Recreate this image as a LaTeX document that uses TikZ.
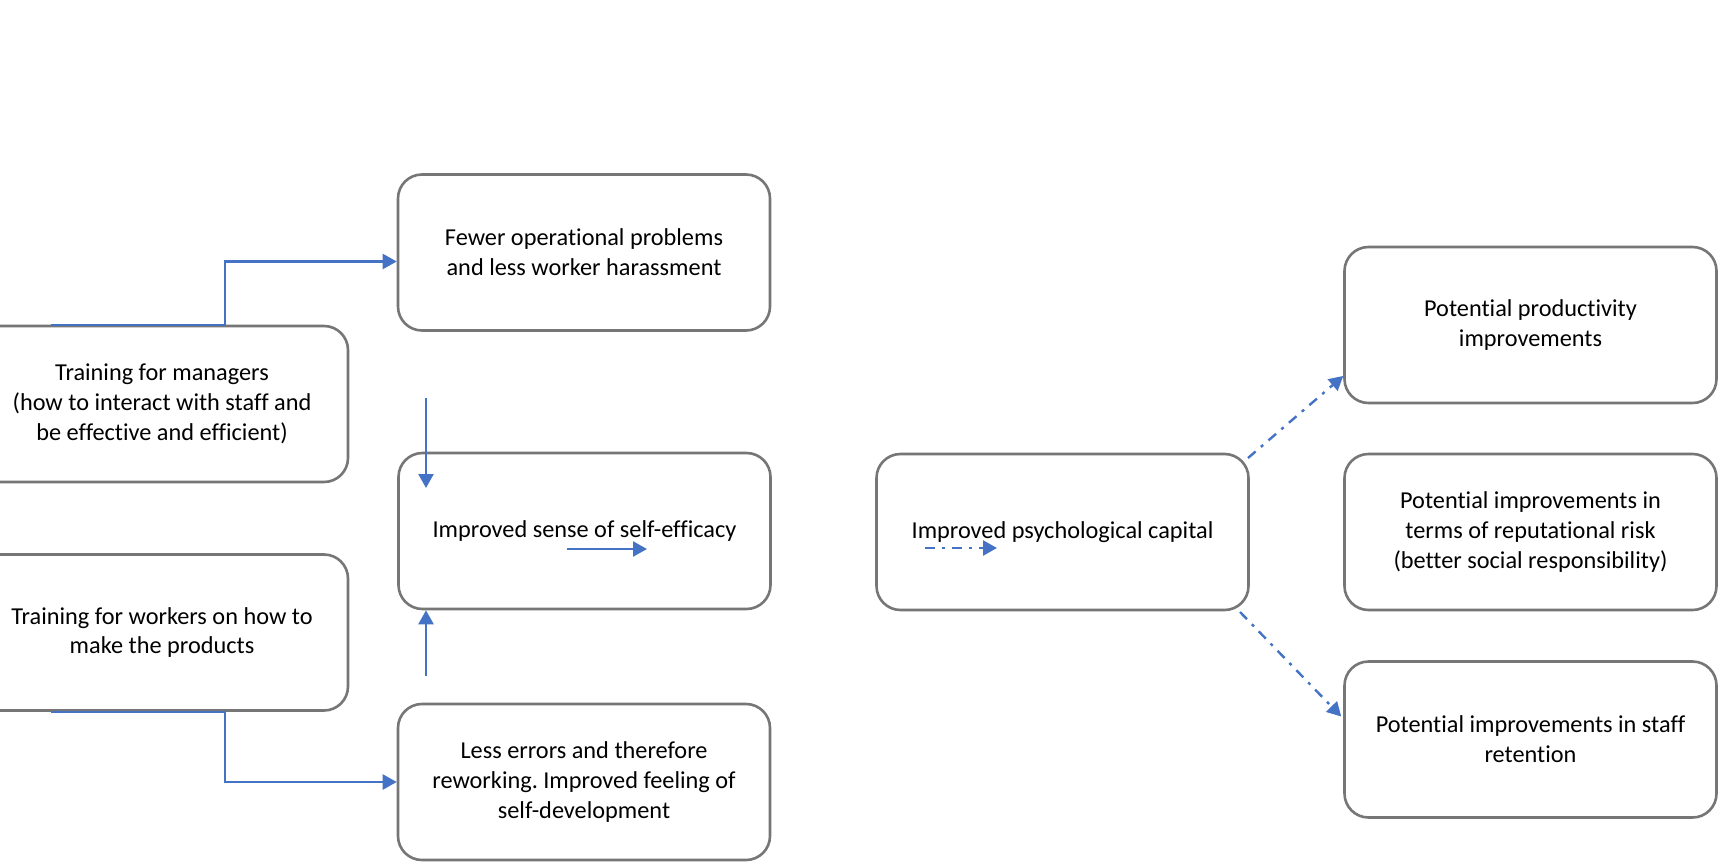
\documentclass[tikz,border=0pt]{standalone}
\usepackage{fontspec}
\setmainfont{Carlito}[Ligatures=NoCommon]
\frenchspacing
\usetikzlibrary{arrows.meta}
\definecolor{boxgrey}{HTML}{767676}
\definecolor{connblue}{HTML}{4472C4}
\tikzset{
  rbox/.style={draw=boxgrey, line width=2.6pt, rounded corners=24pt, rectangle,
    minimum width=372pt, minimum height=156pt, inner sep=0pt, align=center,
    font=\fontsize{24.3pt}{29.8pt}\selectfont, text=black},
  conn/.style={draw=connblue, line width=2.4pt, -{Triangle[length=14pt,width=15pt]}},
  dconn/.style={conn, dash pattern=on 10pt off 7pt on 3pt off 7pt},
}
\begin{document}
\begin{tikzpicture}[x=1pt,y=-1pt]
\useasboundingbox (0,0) rectangle (1719,862);
\clip (0,0) rectangle (1719,862);
\fill[white] (0,0) rectangle (1719,862);
\node[rbox] (fewer) at (584,252.5) {Fewer operational problems\\and less worker harassment};
\node[rbox] (mgr) at (162,404) {Training for managers\\(how to interact with staff and\\be effective and efficient)};
\node[rbox] (eff) at (584.5,531) {Improved sense of self-efficacy};
\node[rbox] (wrk) at (162,632.5) {Training for workers on how to\\make the products};
\node[rbox] (less) at (584,782) {Less errors and therefore\\reworking. Improved feeling of\\self-development};
\node[rbox] (psy) at (1062.5,532) {Improved psychological capital};
\node[rbox] (prod) at (1530.5,325) {Potential productivity\\improvements};
\node[rbox] (rep) at (1530.5,532) {Potential improvements in\\terms of reputational risk\\(better social responsibility)};
\node[rbox] (ret) at (1530.5,739.5) {Potential improvements in staff\\retention};
% free ends
\coordinate (topstart) at (426,398);
\coordinate (topend) at (426,488);
\coordinate (botstart) at (426,676);
\coordinate (effa) at (567,549);
\coordinate (effb) at (647,549);
\coordinate (psya) at (925,548);
\coordinate (psyb) at (997,548);
\coordinate (psyne) at (1248,458);
\coordinate (psyse) at (1240,612);
% connectors
\draw[conn] ([xshift=76pt]mgr.north west) -- ([xshift=250pt]mgr.north west) |- ([yshift=-9pt]fewer.west);
\draw[conn] ([xshift=76pt]wrk.south west) -- ([xshift=250pt]wrk.south west) |- (less.west);
\draw[conn] (topstart) -- (topend);
\draw[conn] (botstart) -- (botstart |- eff.south);
\draw[conn] (effa) -- (effb);
\draw[dconn] (psya) -- (psyb);
\draw[dconn] (psyne) -- ([yshift=-51pt]prod.west);
\draw[dconn] (psyse) -- ([xshift=-2pt,yshift=23pt]ret.west);
\end{tikzpicture}
\end{document}
